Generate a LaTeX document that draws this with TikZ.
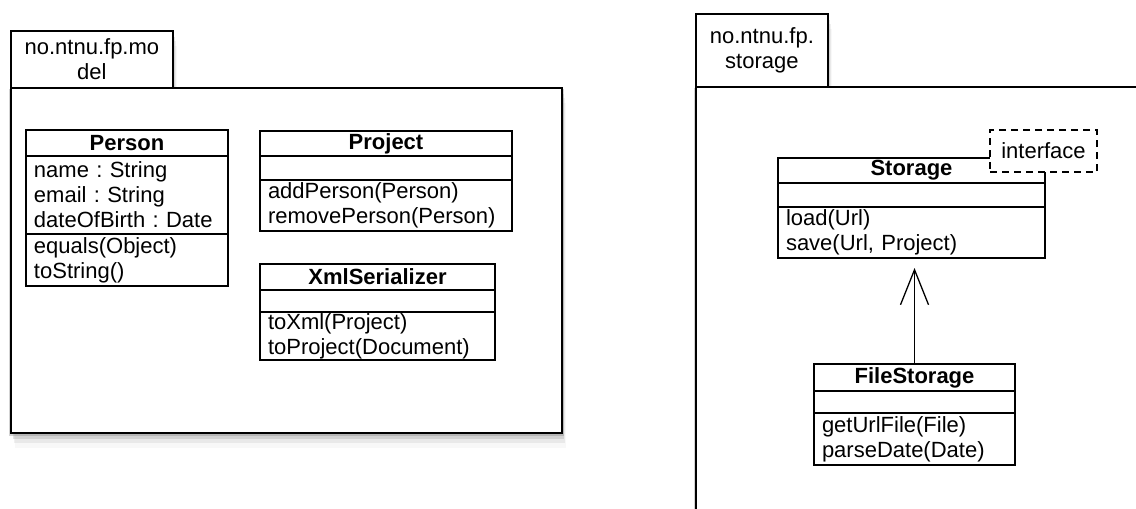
\documentclass[tikz,border=0pt]{standalone}
\usepackage{fontspec}
\setmainfont{Liberation Sans}
\usetikzlibrary{positioning,arrows.meta,shadows}
\newcommand\umlfont{\fontsize{22}{25}\selectfont\frenchspacing}
\tikzset{
  pkgshade/.style={drop shadow={shadow xshift=0pt,shadow yshift=-2pt,shadow scale=1.006,opacity=.35},
                   drop shadow={shadow xshift=2pt,shadow yshift=-6pt,opacity=.22},
                   drop shadow={shadow xshift=3pt,shadow yshift=-10pt,opacity=.12},
                   drop shadow={shadow xshift=4pt,shadow yshift=-15pt,opacity=.06}},
  pkg/.style={draw, fill=white, line width=1.8pt, pkgshade, anchor=north west, inner sep=0pt},
  pkgtab/.style={pkg, align=center},
  cpart/.style={draw, fill=white, line width=1.3pt, outer sep=0pt, inner xsep=8pt, inner ysep=1pt, text width=#1, align=left},
  ctitle/.style={cpart=#1, align=center, font=\umlfont\bfseries},
  iface/.style={draw, fill=white, dashed, dash pattern=on 7pt off 5pt, line width=1.3pt, inner sep=0pt}
}
\begin{document}
\begin{tikzpicture}[x=1pt,y=-1pt,font=\umlfont,line cap=butt]
\path[use as bounding box] (0,0) rectangle (1136,509);
\clip (0,0) rectangle (1136,509);
% package model
\node[pkgtab, minimum width=162pt, minimum height=57pt] (modeltab) at (10,30) {no.ntnu.fp.mo\\del};
\node[pkg, minimum width=551pt, minimum height=345pt] (model) at (10,87) {};
% package storage
\node[pkgtab, minimum width=132pt, minimum height=73pt] (storetab) at (695,13) {no.ntnu.fp.\\storage};
\node[pkg, minimum width=470pt, minimum height=460pt] (store) at (695,86) {};
% Person
\node[ctitle=186pt, minimum height=26pt, anchor=north west] (person) at (26,130) {Person};
\node[cpart=186pt, minimum height=78pt, below=0pt of person] (person-a) {name : String\\email : String\\dateOfBirth : Date};
\node[cpart=186pt, minimum height=52pt, below=0pt of person-a] (person-m) {equals(Object)\\toString()};
% Project
\node[ctitle=236pt, minimum height=25pt, anchor=north west] (project) at (260,131) {Project};
\node[cpart=236pt, minimum height=24pt, below=0pt of project] (project-a) {};
\node[cpart=236pt, minimum height=51pt, below=0pt of project-a] (project-m) {addPerson(Person)\\removePerson(Person)};
% XmlSerializer
\node[ctitle=219pt, minimum height=26pt, anchor=north west] (xml) at (260,264) {XmlSerializer};
\node[cpart=219pt, minimum height=22pt, below=0pt of xml] (xml-a) {};
\node[cpart=219pt, minimum height=48pt, below=0pt of xml-a] (xml-m) {toXml(Project)\\toProject(Document)};
% Storage
\node[ctitle=251pt, minimum height=25pt, anchor=north west] (storage) at (778,158) {Storage};
\node[cpart=251pt, minimum height=24pt, below=0pt of storage] (storage-a) {};
\node[cpart=251pt, minimum height=51pt, below=0pt of storage-a] (storage-m) {load(Url)\\save(Url, Project)};
\node[iface, minimum width=107pt, minimum height=42pt] (iface) at (1043.5,151) {interface};
% FileStorage
\node[ctitle=185pt, minimum height=27pt, anchor=north west] (file) at (814,364) {FileStorage};
\node[cpart=185pt, minimum height=22pt, below=0pt of file] (file-a) {};
\node[cpart=185pt, minimum height=52pt, below=0pt of file-a] (file-m) {getUrlFile(File)\\parseDate(Date)};
\draw[line width=1.3pt, -{Straight Barb[length=35pt,width=28pt]}, shorten >=10pt] (file.north) -- (file.north |- storage-m.south);
\end{tikzpicture}
\end{document}
